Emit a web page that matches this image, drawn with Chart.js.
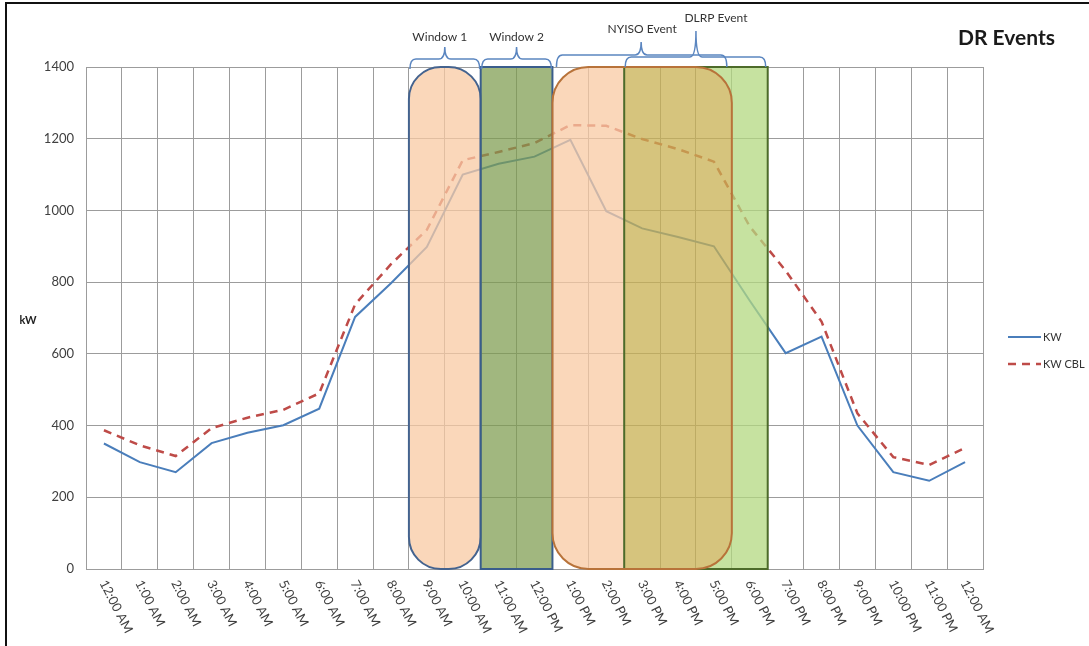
<!DOCTYPE html>
<html>
<head>
<meta charset="utf-8">
<title>DR Events</title>
<script src="https://cdn.jsdelivr.net/npm/chart.js@4.4.1/dist/chart.umd.min.js"></script>
<style>
  body { margin: 0; background: #fff; }
  canvas { display: block; }
</style>
</head>
<body>
<canvas id="myChart" width="1089" height="646"></canvas>
<script>
const hours = ["12:00 AM", "1:00 AM", "2:00 AM", "3:00 AM", "4:00 AM", "5:00 AM", "6:00 AM", "7:00 AM",
    "8:00 AM", "9:00 AM", "10:00 AM", "11:00 AM", "12:00 PM", "1:00 PM", "2:00 PM", "3:00 PM", "4:00 PM",
    "5:00 PM", "6:00 PM", "7:00 PM", "8:00 PM", "9:00 PM", "10:00 PM", "11:00 PM", "12:00 AM"];
const kw = [350, 298, 270, 351, 380, 401, 447, 703, 797, 898, 1100, 1130, 1150, 1197, 998, 950, 926, 900, 748, 602, 648, 400, 270, 246, 298];
const kwCbl = [387, 345, 315, 393, 422, 444, 490, 738, 850, 946, 1140, 1163, 1188, 1238, 1236, 1199, 1171, 1136, 955, 832, 690, 434, 312, 290, 338];
const yTicks = [0, 200, 400, 600, 800, 1000, 1200, 1400];

// event windows: first and last hour (index into hours) they cover
const eventNames = ["Window 1", "Window 2", "NYISO Event", "DLRP Event"];
const eventFirst = [9, 11, 13, 15];
const eventLast = [10, 12, 17, 18];

const tickFont = "13px Lato, 'Liberation Sans', sans-serif";

function brace(ctx, x1, x2, xm, yEnd, yLine, yTip) {
    const r = 6;
    ctx.beginPath();
    ctx.moveTo(x1, yEnd);
    ctx.quadraticCurveTo(x1, yLine, x1 + r, yLine);
    ctx.lineTo(xm - r, yLine);
    ctx.quadraticCurveTo(xm, yLine, xm, yTip);
    ctx.quadraticCurveTo(xm, yLine, xm + r, yLine);
    ctx.lineTo(x2 - r, yLine);
    ctx.quadraticCurveTo(x2, yLine, x2, yEnd);
    ctx.stroke();
}

const overlayPlugin = {
    id: 'overlays',
    beforeDraw(chart) {
        const ctx = chart.ctx;
        ctx.save();
        ctx.fillStyle = '#fff';
        ctx.fillRect(0, 0, chart.width, chart.height);
        ctx.strokeStyle = '#111';
        ctx.lineWidth = 2;
        ctx.beginPath();
        ctx.moveTo(6, chart.height);
        ctx.lineTo(6, 3);
        ctx.lineTo(chart.width, 3);
        ctx.stroke();
        ctx.restore();
    },
    afterDatasetsDraw(chart) {
        const ctx = chart.ctx;
        const x = chart.scales.x;
        const y = chart.scales.y;
        const top = y.getPixelForValue(1400);
        const bottom = y.getPixelForValue(0);
        const h = bottom - top;
        const L = eventFirst.map(v => x.getPixelForValue(v - 0.5));
        const R = eventLast.map(v => x.getPixelForValue(v + 0.5));

        ctx.save();
        // Window 1
        ctx.beginPath();
        ctx.roundRect(L[0], top, R[0] - L[0], h, 32);
        ctx.fillStyle = 'rgba(248,202,163,0.75)';
        ctx.fill();
        ctx.strokeStyle = '#44638f';
        ctx.lineWidth = 2;
        ctx.stroke();

        // Window 2
        ctx.beginPath();
        ctx.rect(L[1], top, R[1] - L[1], h);
        ctx.fillStyle = 'rgba(125,155,77,0.72)';
        ctx.fill();
        ctx.strokeStyle = '#3a5d8c';
        ctx.stroke();

        // NYISO and DLRP, overlap in khaki
        const nyiso = new Path2D();
        nyiso.roundRect(L[2], top, R[2] - L[2], h, 36);
        const dlrp = new Path2D();
        dlrp.rect(L[3], top, R[3] - L[3], h);
        const both = new Path2D();
        both.addPath(nyiso);
        both.addPath(dlrp);

        ctx.save();
        ctx.clip(both, 'evenodd');
        ctx.fillStyle = 'rgba(248,202,163,0.75)';
        ctx.fill(nyiso);
        ctx.fillStyle = 'rgba(179,216,128,0.75)';
        ctx.fill(dlrp);
        ctx.restore();

        ctx.save();
        ctx.clip(nyiso);
        ctx.fillStyle = 'rgba(200,176,81,0.75)';
        ctx.fill(dlrp);
        ctx.restore();

        ctx.strokeStyle = '#4d6b2a';
        ctx.lineWidth = 2;
        ctx.stroke(dlrp);
        ctx.strokeStyle = '#b8733a';
        ctx.stroke(nyiso);

        // braces and labels above the plot
        ctx.strokeStyle = '#5b86c0';
        ctx.lineWidth = 1.5;
        brace(ctx, L[0] + 1, R[0] - 1, (L[0] + R[0]) / 2, top + 2, top - 8, top - 20);
        brace(ctx, L[1] + 1, R[1] - 1, (L[1] + R[1]) / 2, top + 2, top - 8, top - 20);
        brace(ctx, L[2] + 4, R[2] - 5, (L[2] + R[2]) / 2 - 1, top, top - 12, top - 25);
        brace(ctx, L[3] + 1, R[3] - 2, (L[3] + R[3]) / 2, top, top - 10, top - 36);

        ctx.fillStyle = '#333';
        ctx.font = "12px Lato, 'Liberation Sans', sans-serif";
        ctx.textAlign = 'center';
        ctx.textBaseline = 'middle';
        ctx.fillText(eventNames[0], (L[0] + R[0]) / 2 - 5, top - 30);
        ctx.fillText(eventNames[1], (L[1] + R[1]) / 2, top - 30);
        ctx.fillText(eventNames[2], (L[2] + R[2]) / 2, top - 38);
        ctx.fillText(eventNames[3], (L[3] + R[3]) / 2 + 20, top - 49);
        ctx.restore();
    },
    afterDraw(chart) {
        const ctx = chart.ctx;
        const x = chart.scales.x;
        const area = chart.chartArea;
        ctx.save();

        // rotated hour labels
        ctx.fillStyle = '#404040';
        ctx.font = tickFont;
        ctx.textAlign = 'left';
        ctx.textBaseline = 'middle';
        for (let i = 0; i < hours.length; i++) {
            ctx.save();
            ctx.translate(x.getPixelForValue(i) - 1, area.bottom + 12);
            ctx.rotate(63 * Math.PI / 180);
            ctx.fillText(hours[i], 0, 0);
            ctx.restore();
        }

        // y axis name
        ctx.font = "bold 11px Lato, 'Liberation Sans', sans-serif";
        ctx.textAlign = 'center';
        ctx.fillStyle = '#222';
        ctx.fillText('kW', 28, (area.top + area.bottom) / 2 + 2);

        // title
        ctx.font = "bold 21px Lato, 'Liberation Sans', sans-serif";
        ctx.textAlign = 'right';
        ctx.fillStyle = '#1a1a1a';
        ctx.fillText('DR Events', 1055, 38);

        // legend
        const lx = area.right + 25;
        const ly = [337, 364];
        ctx.font = "11px Lato, 'Liberation Sans', sans-serif";
        ctx.textAlign = 'left';
        chart.data.datasets.forEach(function(ds, i) {
            ctx.strokeStyle = ds.borderColor;
            ctx.lineWidth = ds.borderWidth;
            ctx.setLineDash(ds.borderDash || []);
            ctx.beginPath();
            ctx.moveTo(lx, ly[i]);
            ctx.lineTo(lx + 33, ly[i]);
            ctx.stroke();
            ctx.setLineDash([]);
            ctx.fillStyle = '#333';
            ctx.fillText(ds.label, lx + 35, ly[i]);
        });
        ctx.restore();
    }
};

const ctx = document.getElementById("myChart").getContext("2d");
const myChart = new Chart(ctx, {
    type: "line",
    data: {
        labels: hours,
        datasets: [{
            label: "KW",
            data: kw,
            borderColor: "#4a7ebb",
            borderWidth: 2,
            pointRadius: 0,
            tension: 0,
        }, {
            label: "KW CBL",
            data: kwCbl,
            borderColor: "#be4b48",
            borderWidth: 2.5,
            borderDash: [8, 6],
            pointRadius: 0,
            tension: 0,
        }],
    },
    options: {
        responsive: false,
        animation: false,
        layout: { padding: { left: 0, right: 106, top: 67, bottom: 0 } },
        plugins: {
            legend: { display: false },
            tooltip: { enabled: false },
        },
        scales: {
            x: {
                offset: true,
                grid: { offset: true, color: "#9c9c9c", drawTicks: false },
                border: { color: "#9c9c9c" },
                ticks: { display: false },
                afterFit: function(scale) { scale.height = 77; },
            },
            y: {
                min: 0,
                max: 1400,
                afterBuildTicks: function(scale) { scale.ticks = yTicks.map(v => ({ value: v })); },
                grid: { color: "#9c9c9c", drawTicks: false },
                border: { color: "#9c9c9c" },
                ticks: {
                    color: "#404040",
                    font: { family: "Lato, 'Liberation Sans', sans-serif", size: 13 },
                    padding: 12,
                    callback: function(value) { return String(value); },
                },
                afterFit: function(scale) { scale.width = 86; },
            },
        },
    },
    plugins: [overlayPlugin],
});
</script>
</body>
</html>
